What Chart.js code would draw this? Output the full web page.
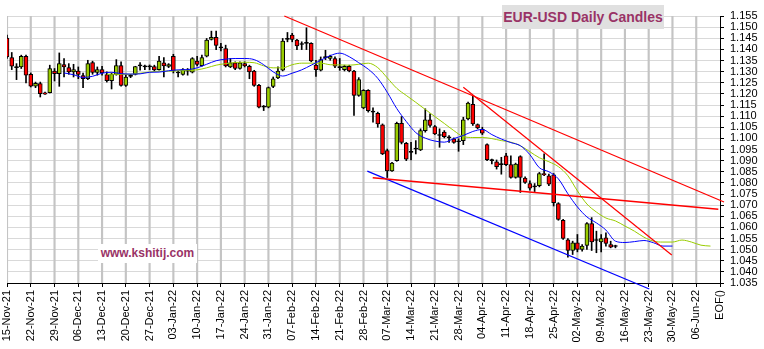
<!DOCTYPE html>
<html>
<head>
<meta charset="utf-8">
<title>EUR-USD Daily Candles</title>
<script src="https://cdn.jsdelivr.net/npm/chart.js@4.4.1/dist/chart.umd.min.js"></script>
<style>
  html, body { margin: 0; padding: 0; background: #fff; }
  #wrap { position: relative; width: 764px; height: 349px; overflow: hidden; }
  #chart { display: block; }
  .caption { position: absolute; font-family: Arial, "Liberation Sans", sans-serif; font-weight: bold; color: #993366; white-space: nowrap; text-align: center; }
  #title { left: 502px; top: 5px; width: 162px; height: 24px; line-height: 24px; font-size: 14px; background: #e0e0e0; }
  #site { left: 98px; top: 244px; width: 99px; height: 19px; line-height: 19px; font-size: 12px; background: #fff; }
</style>
</head>
<body>
<div id="wrap">
  <canvas id="chart" width="764" height="349"></canvas>
  <div id="title" class="caption">EUR-USD Daily Candles</div>
  <div id="site" class="caption">www.kshitij.com</div>
</div>
<script>
// weekly tick labels, one every 5 trading days, last one is the end of file marker
const weekLabels = ['15-Nov-21', '22-Nov-21', '29-Nov-21', '06-Dec-21', '13-Dec-21', '20-Dec-21', '27-Dec-21',
  '03-Jan-22', '10-Jan-22', '17-Jan-22', '24-Jan-22', '31-Jan-22', '07-Feb-22', '14-Feb-22', '21-Feb-22',
  '28-Feb-22', '07-Mar-22', '14-Mar-22', '21-Mar-22', '28-Mar-22', '04-Apr-22', '11-Apr-22', '18-Apr-22',
  '25-Apr-22', '02-May-22', '09-May-22', '16-May-22', '23-May-22', '30-May-22', '06-Jun-22', 'EOF()'];

// daily OHLC, one entry per trading day starting 15-Nov-21
const opens = [
  1.1451, 1.1363, 1.1318, 1.1321, 1.1369, 1.1288, 1.1235, 1.1246, 1.1205, 1.1205,
  1.1302, 1.1291, 1.1332, 1.1318, 1.1299, 1.1302, 1.1282, 1.1268, 1.1341, 1.1296,
  1.1309, 1.1287, 1.1259, 1.1288, 1.1327, 1.1238, 1.1279, 1.1288, 1.1326, 1.1321,
  1.1321, 1.1323, 1.1309, 1.1339, 1.1323, 1.1369, 1.1294, 1.1288, 1.1302, 1.1297,
  1.1347, 1.1327, 1.1369, 1.1445, 1.1454, 1.1407, 1.1404, 1.1321, 1.1339, 1.1314,
  1.1336, 1.1324, 1.1303, 1.1238, 1.1140, 1.1140, 1.1234, 1.1272, 1.1306, 1.1445,
  1.1464, 1.1442, 1.1422, 1.1427, 1.1427, 1.1329, 1.1306, 1.1363, 1.1359, 1.1359,
  1.1318, 1.1309, 1.1324, 1.1303, 1.1193, 1.1137, 1.1216, 1.1118, 1.1113, 1.1061,
  1.0945, 1.0854, 1.0900, 1.1068, 1.0978, 1.0937, 1.0952, 1.0948, 1.1035, 1.1083,
  1.1053, 1.1013, 1.1028, 1.1002, 1.0998, 1.0985, 1.0990, 1.1088, 1.1153, 1.1062,
  1.1041, 1.0972, 1.0900, 1.0895, 1.0882, 1.0922, 1.0882, 1.0824, 1.0918, 1.0821,
  1.0797, 1.0782, 1.0787, 1.0842, 1.0832, 1.0836, 1.0707, 1.0632, 1.0544, 1.0496,
  1.0531, 1.0501, 1.0519, 1.0617, 1.0541, 1.0535, 1.0553, 1.0523, 1.0514];
const highs = [
  1.1464, 1.1386, 1.1336, 1.1374, 1.1374, 1.1294, 1.1253, 1.1253, 1.1208, 1.1329,
  1.1314, 1.1384, 1.1359, 1.1336, 1.1333, 1.1321, 1.1294, 1.1351, 1.1347, 1.1321,
  1.1324, 1.1299, 1.1294, 1.1354, 1.1344, 1.1284, 1.1288, 1.1324, 1.1341, 1.1329,
  1.1330, 1.1329, 1.1369, 1.1363, 1.1336, 1.1378, 1.1303, 1.1314, 1.1314, 1.1363,
  1.1369, 1.1374, 1.1449, 1.1482, 1.1482, 1.1427, 1.1419, 1.1359, 1.1344, 1.1344,
  1.1344, 1.1329, 1.1306, 1.1243, 1.1148, 1.1231, 1.1276, 1.1321, 1.1449, 1.1476,
  1.1472, 1.1445, 1.1434, 1.1497, 1.1430, 1.1351, 1.1366, 1.1396, 1.1374, 1.1366,
  1.1359, 1.1329, 1.1329, 1.1306, 1.1273, 1.1219, 1.1219, 1.1137, 1.1118, 1.1065,
  1.0952, 1.0892, 1.1073, 1.1098, 1.0982, 1.0982, 1.0990, 1.1043, 1.1133, 1.1110,
  1.1058, 1.1043, 1.1035, 1.1013, 1.1002, 1.0998, 1.1095, 1.1163, 1.1189, 1.1065,
  1.1050, 1.0975, 1.0907, 1.0903, 1.0915, 1.0933, 1.0922, 1.0889, 1.0922, 1.0827,
  1.0809, 1.0797, 1.0847, 1.0930, 1.0839, 1.0842, 1.0711, 1.0636, 1.0550, 1.0538,
  1.0568, 1.0523, 1.0621, 1.0644, 1.0583, 1.0568, 1.0576, 1.0538, 1.0520];
const lows = [
  1.1359, 1.1309, 1.1264, 1.1314, 1.1249, 1.1231, 1.1228, 1.1186, 1.1198, 1.1204,
  1.1258, 1.1234, 1.1276, 1.1288, 1.1276, 1.1268, 1.1228, 1.1264, 1.1288, 1.1284,
  1.1284, 1.1253, 1.1222, 1.1284, 1.1235, 1.1234, 1.1273, 1.1285, 1.1306, 1.1309,
  1.1309, 1.1303, 1.1306, 1.1276, 1.1318, 1.1294, 1.1276, 1.1284, 1.1284, 1.1294,
  1.1326, 1.1324, 1.1366, 1.1442, 1.1399, 1.1393, 1.1321, 1.1318, 1.1309, 1.1311,
  1.1321, 1.1268, 1.1234, 1.1137, 1.1125, 1.1137, 1.1228, 1.1268, 1.1303, 1.1434,
  1.1434, 1.1399, 1.1399, 1.1399, 1.1344, 1.1279, 1.1303, 1.1354, 1.1351, 1.1318,
  1.1306, 1.1303, 1.1299, 1.1103, 1.1189, 1.1133, 1.1118, 1.1073, 1.1050, 1.0927,
  1.0824, 1.0851, 1.0897, 1.0975, 1.0900, 1.0903, 1.0930, 1.0945, 1.1028, 1.1050,
  1.1017, 1.0960, 1.1002, 1.0982, 1.0978, 1.0942, 1.0972, 1.1083, 1.1058, 1.1043,
  1.1017, 1.0900, 1.0885, 1.0862, 1.0839, 1.0877, 1.0821, 1.0821, 1.0757, 1.0797,
  1.0767, 1.0761, 1.0782, 1.0832, 1.0787, 1.0696, 1.0632, 1.0546, 1.0466, 1.0478,
  1.0490, 1.0493, 1.0501, 1.0496, 1.0486, 1.0490, 1.0516, 1.0508, 1.0508];
const closes = [
  1.1366, 1.1324, 1.1318, 1.1369, 1.1284, 1.1235, 1.1247, 1.1201, 1.1199, 1.1314,
  1.1291, 1.1336, 1.1321, 1.1299, 1.1309, 1.1287, 1.1268, 1.1336, 1.1296, 1.1309,
  1.1294, 1.1259, 1.1288, 1.1327, 1.1238, 1.1276, 1.1279, 1.1323, 1.1326, 1.1321,
  1.1321, 1.1308, 1.1347, 1.1326, 1.1332, 1.1303, 1.1294, 1.1309, 1.1302, 1.1359,
  1.1332, 1.1363, 1.1442, 1.1454, 1.1418, 1.1407, 1.1326, 1.1339, 1.1314, 1.1339,
  1.1326, 1.1299, 1.1238, 1.1140, 1.1140, 1.1228, 1.1268, 1.1302, 1.1437, 1.1445,
  1.1445, 1.1416, 1.1422, 1.1427, 1.1348, 1.1309, 1.1354, 1.1363, 1.1369, 1.1324,
  1.1318, 1.1324, 1.1303, 1.1193, 1.1264, 1.1216, 1.1125, 1.1118, 1.1065, 1.0930,
  1.0854, 1.0889, 1.1068, 1.0982, 1.0907, 1.0937, 1.0952, 1.1035, 1.1083, 1.1058,
  1.1020, 1.1013, 1.1008, 1.1002, 1.0982, 1.0985, 1.1083, 1.1159, 1.1065, 1.1047,
  1.1023, 1.0904, 1.0900, 1.0873, 1.0882, 1.0882, 1.0824, 1.0885, 1.0824, 1.0802,
  1.0776, 1.0782, 1.0842, 1.0836, 1.0794, 1.0711, 1.0636, 1.0550, 1.0496, 1.0531,
  1.0501, 1.0516, 1.0617, 1.0535, 1.0541, 1.0550, 1.0528, 1.0511, 1.0514];

// displaced moving averages (blue = short, green = long), sampled by trading day
const shortMaDays = [12, 14, 16, 18, 20, 22, 24, 26, 28, 30, 32, 34, 36, 38, 40, 42, 44, 46, 48, 50,
  52, 54, 56, 58, 60, 62, 64, 66, 68, 70, 72, 74, 76, 78, 80, 82, 84, 86, 88, 90,
  92, 94, 96, 98, 100, 102, 104, 106, 108, 110, 112, 114, 116, 118, 120, 122, 124, 126, 128, 130,
  132, 134, 136, 138, 140];
const shortMaVals = [1.1294, 1.1286, 1.1274, 1.1279, 1.1293, 1.1297, 1.1291, 1.1289, 1.1290, 1.1297,
  1.1298, 1.1304, 1.1308, 1.1309, 1.1317, 1.1333, 1.1349, 1.1356, 1.1359, 1.1359,
  1.1354, 1.1331, 1.1299, 1.1280, 1.1293, 1.1308, 1.1329, 1.1351, 1.1372, 1.1383,
  1.1367, 1.1340, 1.1311, 1.1270, 1.1207, 1.1134, 1.1076, 1.1026, 1.1001, 1.0988,
  1.0983, 1.0999, 1.1013, 1.1031, 1.1040, 1.1017, 1.0997, 1.0981, 1.0967, 1.0927,
  1.0868, 1.0850, 1.0818, 1.0751, 1.0692, 1.0647, 1.0620, 1.0588, 1.0538, 1.0532,
  1.0536, 1.0541, 1.0531, 1.0516, 1.0516];
const longMaDays = [21, 24, 26, 28, 30, 32, 34, 36, 38, 40, 42, 44, 46, 48, 50, 52, 54, 56, 58, 60,
  62, 64, 66, 68, 70, 72, 74, 76, 78, 80, 82, 84, 86, 88, 90, 92, 94, 96, 98, 100,
  102, 104, 106, 108, 110, 112, 114, 116, 118, 120, 122, 124, 126, 128, 130, 132, 134, 136, 138, 140,
  142, 144, 146, 148];
const longMaVals = [1.1288, 1.1288, 1.1288, 1.1293, 1.1298, 1.1302, 1.1302, 1.1304, 1.1306, 1.1308,
  1.1317, 1.1329, 1.1336, 1.1341, 1.1342, 1.1340, 1.1326, 1.1317, 1.1317, 1.1331,
  1.1338, 1.1338, 1.1338, 1.1331, 1.1330, 1.1329, 1.1333, 1.1338, 1.1318, 1.1272,
  1.1225, 1.1193, 1.1162, 1.1130, 1.1098, 1.1067, 1.1035, 1.1008, 1.1004, 1.1004,
  1.0999, 1.0990, 1.0983, 1.0967, 1.0940, 1.0913, 1.0895, 1.0873, 1.0832, 1.0764,
  1.0705, 1.0669, 1.0642, 1.0629, 1.0606, 1.0583, 1.0556, 1.0538, 1.0534, 1.0534,
  1.0543, 1.0534, 1.0520, 1.0516];

// hand drawn trend lines: [start, end] in trading day / price
const upperRedX = [58.34, 150.85], upperRedY = [1.1550, 1.0714];
const steepRedX = [96.0, 139.85], steepRedY = [1.1230, 1.0476];
const flatRedX = [76.94, 149.65], flatRedY = [1.0823, 1.0681];
const lowerBlueX = [75.8, 135.13], lowerBlueY = [1.0853, 1.0323];

const Y_MIN = 1.035, Y_MAX = 1.155;
const FONT = 'Arial, "Liberation Sans", sans-serif';
const GREEN = '#99cc00';
const RED = '#ff0000';

const toPoints = (xs, ys) => xs.map((x, i) => ({ x: x, y: ys[i] }));

const bodies = opens.map((o, i) => ({ x: i, y: [o, closes[i]] }));
const wicks = highs.map((h, i) => ({ x: i, y: [lows[i], h] }));
const bodyColors = opens.map((o, i) => closes[i] > o ? GREEN : (closes[i] < o ? RED : '#000000'));

// one full-height column per weekly label, used as the vertical grid
const weekColumns = weekLabels.slice(0, -1).map((_, k) => ({ x: k * 5, y: [Y_MIN, Y_MAX] }));

const trend = (xs, ys, color, width) => ({
  type: 'line',
  data: toPoints(xs, ys),
  borderColor: color,
  borderWidth: width,
  pointRadius: 0,
  tension: 0,
  clip: false,
  order: 0
});

const ctx = document.getElementById('chart').getContext('2d');

new Chart(ctx, {
  type: 'bar',
  data: {
    datasets: [
      trend(upperRedX, upperRedY, RED, 1.2),
      trend(steepRedX, steepRedY, RED, 1.2),
      trend(flatRedX, flatRedY, RED, 1.5),
      trend(lowerBlueX, lowerBlueY, '#0000ff', 1.2),
      {
        type: 'line',
        data: toPoints(shortMaDays, shortMaVals),
        borderColor: '#0000ff',
        borderWidth: 1,
        pointRadius: 0,
        cubicInterpolationMode: 'monotone',
        order: 1
      },
      {
        type: 'line',
        data: toPoints(longMaDays, longMaVals),
        borderColor: GREEN,
        borderWidth: 1,
        pointRadius: 0,
        cubicInterpolationMode: 'monotone',
        order: 2
      },
      {
        data: bodies,
        backgroundColor: bodyColors,
        borderColor: '#000000',
        borderWidth: 1,
        borderSkipped: false,
        barThickness: 4,
        minBarLength: 1,
        grouped: false,
        order: 5
      },
      {
        data: wicks,
        backgroundColor: '#000000',
        barThickness: 1,
        grouped: false,
        order: 6
      },
      {
        data: weekColumns,
        backgroundColor: '#c4c4c4',
        barThickness: 1.5,
        grouped: false,
        order: 9
      }
    ]
  },
  options: {
    responsive: false,
    animation: false,
    devicePixelRatio: 1,
    layout: { padding: { left: 7, top: 16, right: 0, bottom: 0 } },
    plugins: {
      legend: { display: false },
      tooltip: { enabled: false }
    },
    scales: {
      x: {
        type: 'linear',
        min: 0,
        max: 150,
        offset: false,
        grid: { display: true, drawOnChartArea: false, tickColor: '#000000', tickLength: 4, offset: false },
        border: { color: '#000000' },
        ticks: {
          stepSize: 5,
          autoSkip: false,
          maxRotation: 90,
          minRotation: 90,
          padding: 3,
          color: '#000000',
          font: { family: FONT, size: 11 },
          callback: (v) => weekLabels[Math.round(v / 5)]
        },
        afterFit: (scale) => { scale.height = 66; }
      },
      y: {
        type: 'linear',
        position: 'right',
        min: Y_MIN,
        max: Y_MAX,
        grid: { color: '#d9d9d9', tickColor: '#000000', tickLength: 4 },
        border: { color: '#000000' },
        ticks: {
          stepSize: 0.005,
          autoSkip: false,
          padding: 6,
          color: '#000000',
          font: { family: FONT, size: 11 },
          callback: (v) => v.toFixed(3)
        },
        afterFit: (scale) => { scale.width = 44; }
      }
    }
  }
});
</script>
</body>
</html>
